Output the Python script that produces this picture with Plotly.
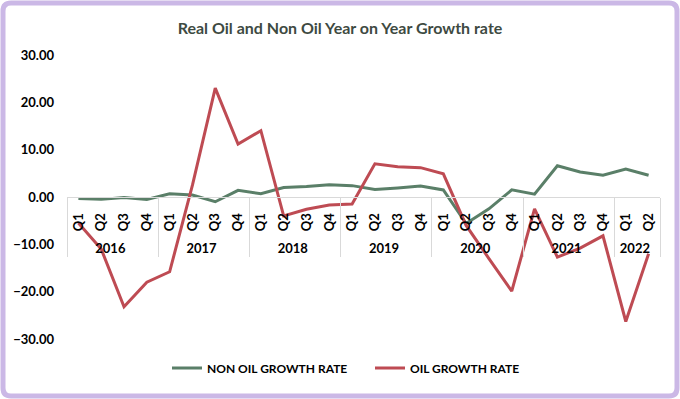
import plotly.graph_objects as go

years = ["2016"] * 4 + ["2017"] * 4 + ["2018"] * 4 + ["2019"] * 4 + ["2020"] * 4 + ["2021"] * 4 + ["2022"] * 2
quarters = ["Q1", "Q2", "Q3", "Q4"] * 6 + ["Q1", "Q2"]

non_oil = [-0.3, -0.5, -0.1, -0.5,
           0.7, 0.4, -1.0, 1.4,
           0.7, 2.0, 2.2, 2.6,
           2.4, 1.6, 1.9, 2.3,
           1.5, -5.6, -2.5, 1.5,
           0.6, 6.6, 5.3, 4.6,
           5.9, 4.6]
oil = [-5.5, -11.0, -23.2, -18.0,
       -15.8, 2.5, 23.0, 11.2,
       14.0, -4.0, -2.6, -1.7,
       -1.5, 7.0, 6.4, 6.2,
       4.9, -6.0, -13.0, -19.9,
       -2.5, -12.7, -10.8, -8.2,
       -26.3, -12.0]

y_ticks = [30, 20, 10, 0, -10, -20, -30]

GREEN = "#5A7F68"
RED = "#BE4B53"

# non-breaking spaces pad the quarter labels so the year row sits lower
q_labels = ["\u00a0\u00a0" + q for q in quarters]

fig = go.Figure()
fig.add_trace(go.Scatter(x=[years, q_labels], y=non_oil, mode="lines",
                         name="NON OIL GROWTH RATE",
                         line=dict(color=GREEN, width=3)))
fig.add_trace(go.Scatter(x=[years, q_labels], y=oil, mode="lines",
                         name="OIL GROWTH RATE",
                         line=dict(color=RED, width=3)))

L, R, T, B = 67, 20, 55, 60
pw = 680 - L - R
ph = 399 - T - B
def px(x):
    return (x - L) / pw
def py(y):
    return (399 - B - y) / ph

fig.update_layout(
    width=680, height=399,
    margin=dict(l=L, r=R, t=T, b=B),
    paper_bgcolor="white", plot_bgcolor="white",
    font=dict(family="Lato, 'Open Sans', sans-serif", color="#000000"),
    title=dict(text="Real Oil and Non Oil Year on Year Growth rate",
               x=0.5, xref="container", xanchor="center",
               y=1 - 28 / 399, yref="container", yanchor="middle",
               font=dict(size=16, color="#3E4A42", family="Lato, sans-serif", weight="bold")),
    showlegend=True,
    legend=dict(orientation="h", x=px(167), xanchor="left", y=py(368), yanchor="middle",
                font=dict(size=12, family="Lato, sans-serif", weight="bold", color="#000000"),
                itemwidth=30, entrywidth=158, entrywidthmode="pixels",
                tracegroupgap=0, bgcolor="rgba(0,0,0,0)"),
)
fig.update_xaxes(
    type="multicategory",
    range=[-0.5, len(quarters) - 0.5],
    anchor="free", position=0.5,
    showline=True, linecolor="#D9D9D9", linewidth=1,
    showgrid=False, zeroline=False,
    showdividers=True, dividercolor="#D9D9D9", dividerwidth=1,
    tickangle=-90,
    tickfont=dict(size=13, family="Lato, sans-serif", weight="bold", color="#000000"),
    ticks="",
    ticklabelstandoff=10,
)
fig.update_yaxes(
    range=[-30, 30], tickvals=y_ticks, tickformat=".2f",
    showgrid=False, zeroline=False, showline=False,
    tickfont=dict(size=13, family="Lato, sans-serif", weight="bold", color="#000000"),
    ticklabelstandoff=12,
)

# outer rounded border around whole figure
r = 8
x0, x1, y0, y1 = 3, 677, 3, 396
path = (f"M {px(x0 + r)} {py(y0)} L {px(x1 - r)} {py(y0)} Q {px(x1)} {py(y0)} {px(x1)} {py(y0 + r)} "
        f"L {px(x1)} {py(y1 - r)} Q {px(x1)} {py(y1)} {px(x1 - r)} {py(y1)} "
        f"L {px(x0 + r)} {py(y1)} Q {px(x0)} {py(y1)} {px(x0)} {py(y1 - r)} "
        f"L {px(x0)} {py(y0 + r)} Q {px(x0)} {py(y0)} {px(x0 + r)} {py(y0)} Z")
fig.add_shape(type="path", path=path, xref="paper", yref="paper",
              line=dict(color="#CBB8E6", width=5), layer="below")

fig.write_html("out.html", config={"displayModeBar": False},
               post_script="document.body.style.margin='0';document.body.style.padding='0';")
